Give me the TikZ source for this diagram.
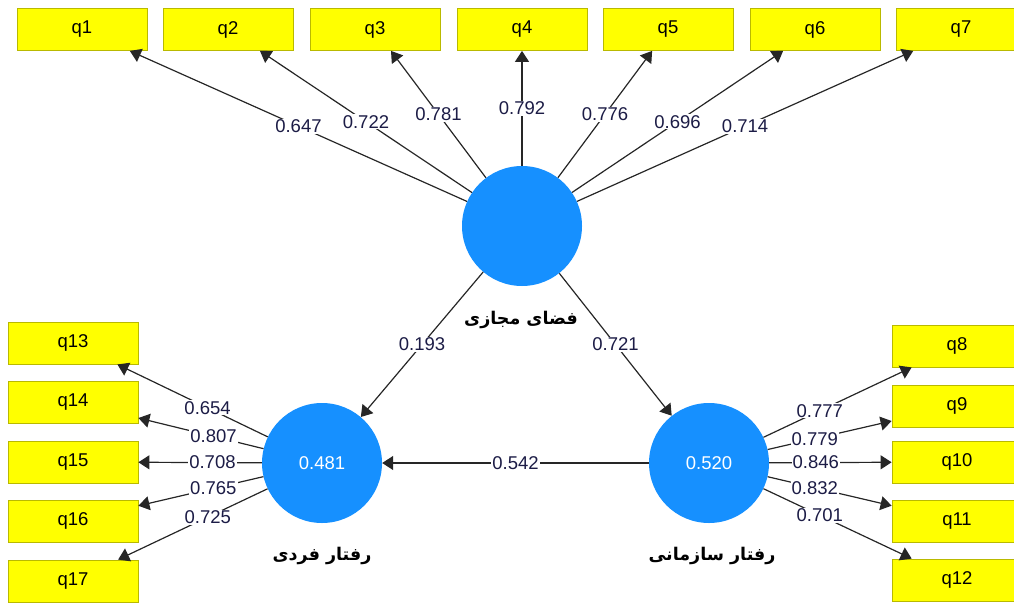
\documentclass[tikz,border=0pt]{standalone}
\usepackage{fontspec}
\setmainfont{Liberation Sans}
\newfontfamily\arabicfont[Script=Arabic]{DejaVu Sans}
\TeXXeTstate=1
\usetikzlibrary{arrows.meta}
\definecolor{lvblue}{RGB}{22,144,255}
\definecolor{boxyellow}{RGB}{255,255,0}
\definecolor{boxborder}{RGB}{185,185,0}
\definecolor{labtext}{RGB}{28,28,70}
\begin{document}
\begin{tikzpicture}[x=1pt,y=-1pt,
 ind/.style={draw=boxborder, fill=boxyellow, minimum width=130pt, minimum height=42pt, inner sep=0pt, font=\fontsize{18.5}{20}\selectfont, line width=0.8pt},
 lv/.style={circle, fill=lvblue, minimum size=120pt, inner sep=0pt, text=white, font=\fontsize{18.5}{20}\selectfont},
 ld/.style={-{Triangle[length=11pt,width=14pt]}, line width=1.2pt, draw=black!85},
 wt/.style={fill=white, inner sep=1pt, font=\fontsize{18.5}{20}\selectfont, text=labtext},
 arlabel/.style={font=\arabicfont\bfseries\fontsize{17.5}{20}\selectfont, text=black}
]
\useasboundingbox (0,0) rectangle (1014,602);

% latent variables
\node[lv] (fm) at (522,226) {};
\node[lv] (rf) at (322,463) {0.481};
\node[lv] (rs) at (709,463) {0.520};

\node[arlabel] (fmlab) at (521,320) {\beginR فضای مجازی\endR};
\node[arlabel] (rflab) at (322,556) {\beginR رفتار فردی\endR};
\node[arlabel] (rslab) at (712,556) {\beginR رفتار سازمانی\endR};

% top indicators
\node[ind] (q1) at (82,29.5) {q1};
\node[ind] (q2) at (228,29.5) {q2};
\node[ind] (q3) at (375,29.5) {q3};
\node[ind] (q4) at (522,29.5) {q4};
\node[ind] (q5) at (668,29.5) {q5};
\node[ind] (q6) at (815,29.5) {q6};
\node[ind] (q7) at (961,29.5) {q7};

% left indicators
\node[ind] (q13) at (73,343) {q13};
\node[ind] (q14) at (73,402) {q14};
\node[ind] (q15) at (73,462) {q15};
\node[ind] (q16) at (73,521) {q16};
\node[ind] (q17) at (73,581) {q17};

% right indicators
\node[ind] (q8) at (957,346) {q8};
\node[ind] (q9) at (957,406) {q9};
\node[ind] (q10) at (957,462) {q10};
\node[ind] (q11) at (957,521) {q11};
\node[ind] (q12) at (957,580) {q12};

% outer loadings, top
\draw[ld] (fm) -- node[wt,pos=.5]{0.647} (q1);
\draw[ld] (fm) -- node[wt,pos=.5]{0.722} (q2);
\draw[ld] (fm) -- node[wt,pos=.5]{0.781} (q3);
\draw[ld] (fm) -- node[wt,pos=.5]{0.792} (q4);
\draw[ld] (fm) -- node[wt,pos=.5]{0.776} (q5);
\draw[ld] (fm) -- node[wt,pos=.5]{0.696} (q6);
\draw[ld] (fm) -- node[wt,pos=.5]{0.714} (q7);

% left
\draw[ld] (rf) -- node[wt,pos=.4]{0.654} (q13);
\draw[ld] (rf) -- node[wt,pos=.4]{0.807} (q14);
\draw[ld] (rf) -- node[wt,pos=.4]{0.708} (q15);
\draw[ld] (rf) -- node[wt,pos=.4]{0.765} (q16);
\draw[ld] (rf) -- node[wt,pos=.4]{0.725} (q17);

% right
\draw[ld] (rs) -- node[wt,pos=.38]{0.777} (q8);
\draw[ld] (rs) -- node[wt,pos=.38]{0.779} (q9);
\draw[ld] (rs) -- node[wt,pos=.38]{0.846} (q10);
\draw[ld] (rs) -- node[wt,pos=.38]{0.832} (q11);
\draw[ld] (rs) -- node[wt,pos=.38]{0.701} (q12);

% inner model
\draw[ld] (fm) -- node[wt,pos=.5]{0.193} (rf);
\draw[ld] (fm) -- node[wt,pos=.5]{0.721} (rs);
\draw[ld] (rs) -- node[wt,pos=.5]{0.542} (rf);
\end{tikzpicture}
\end{document}
